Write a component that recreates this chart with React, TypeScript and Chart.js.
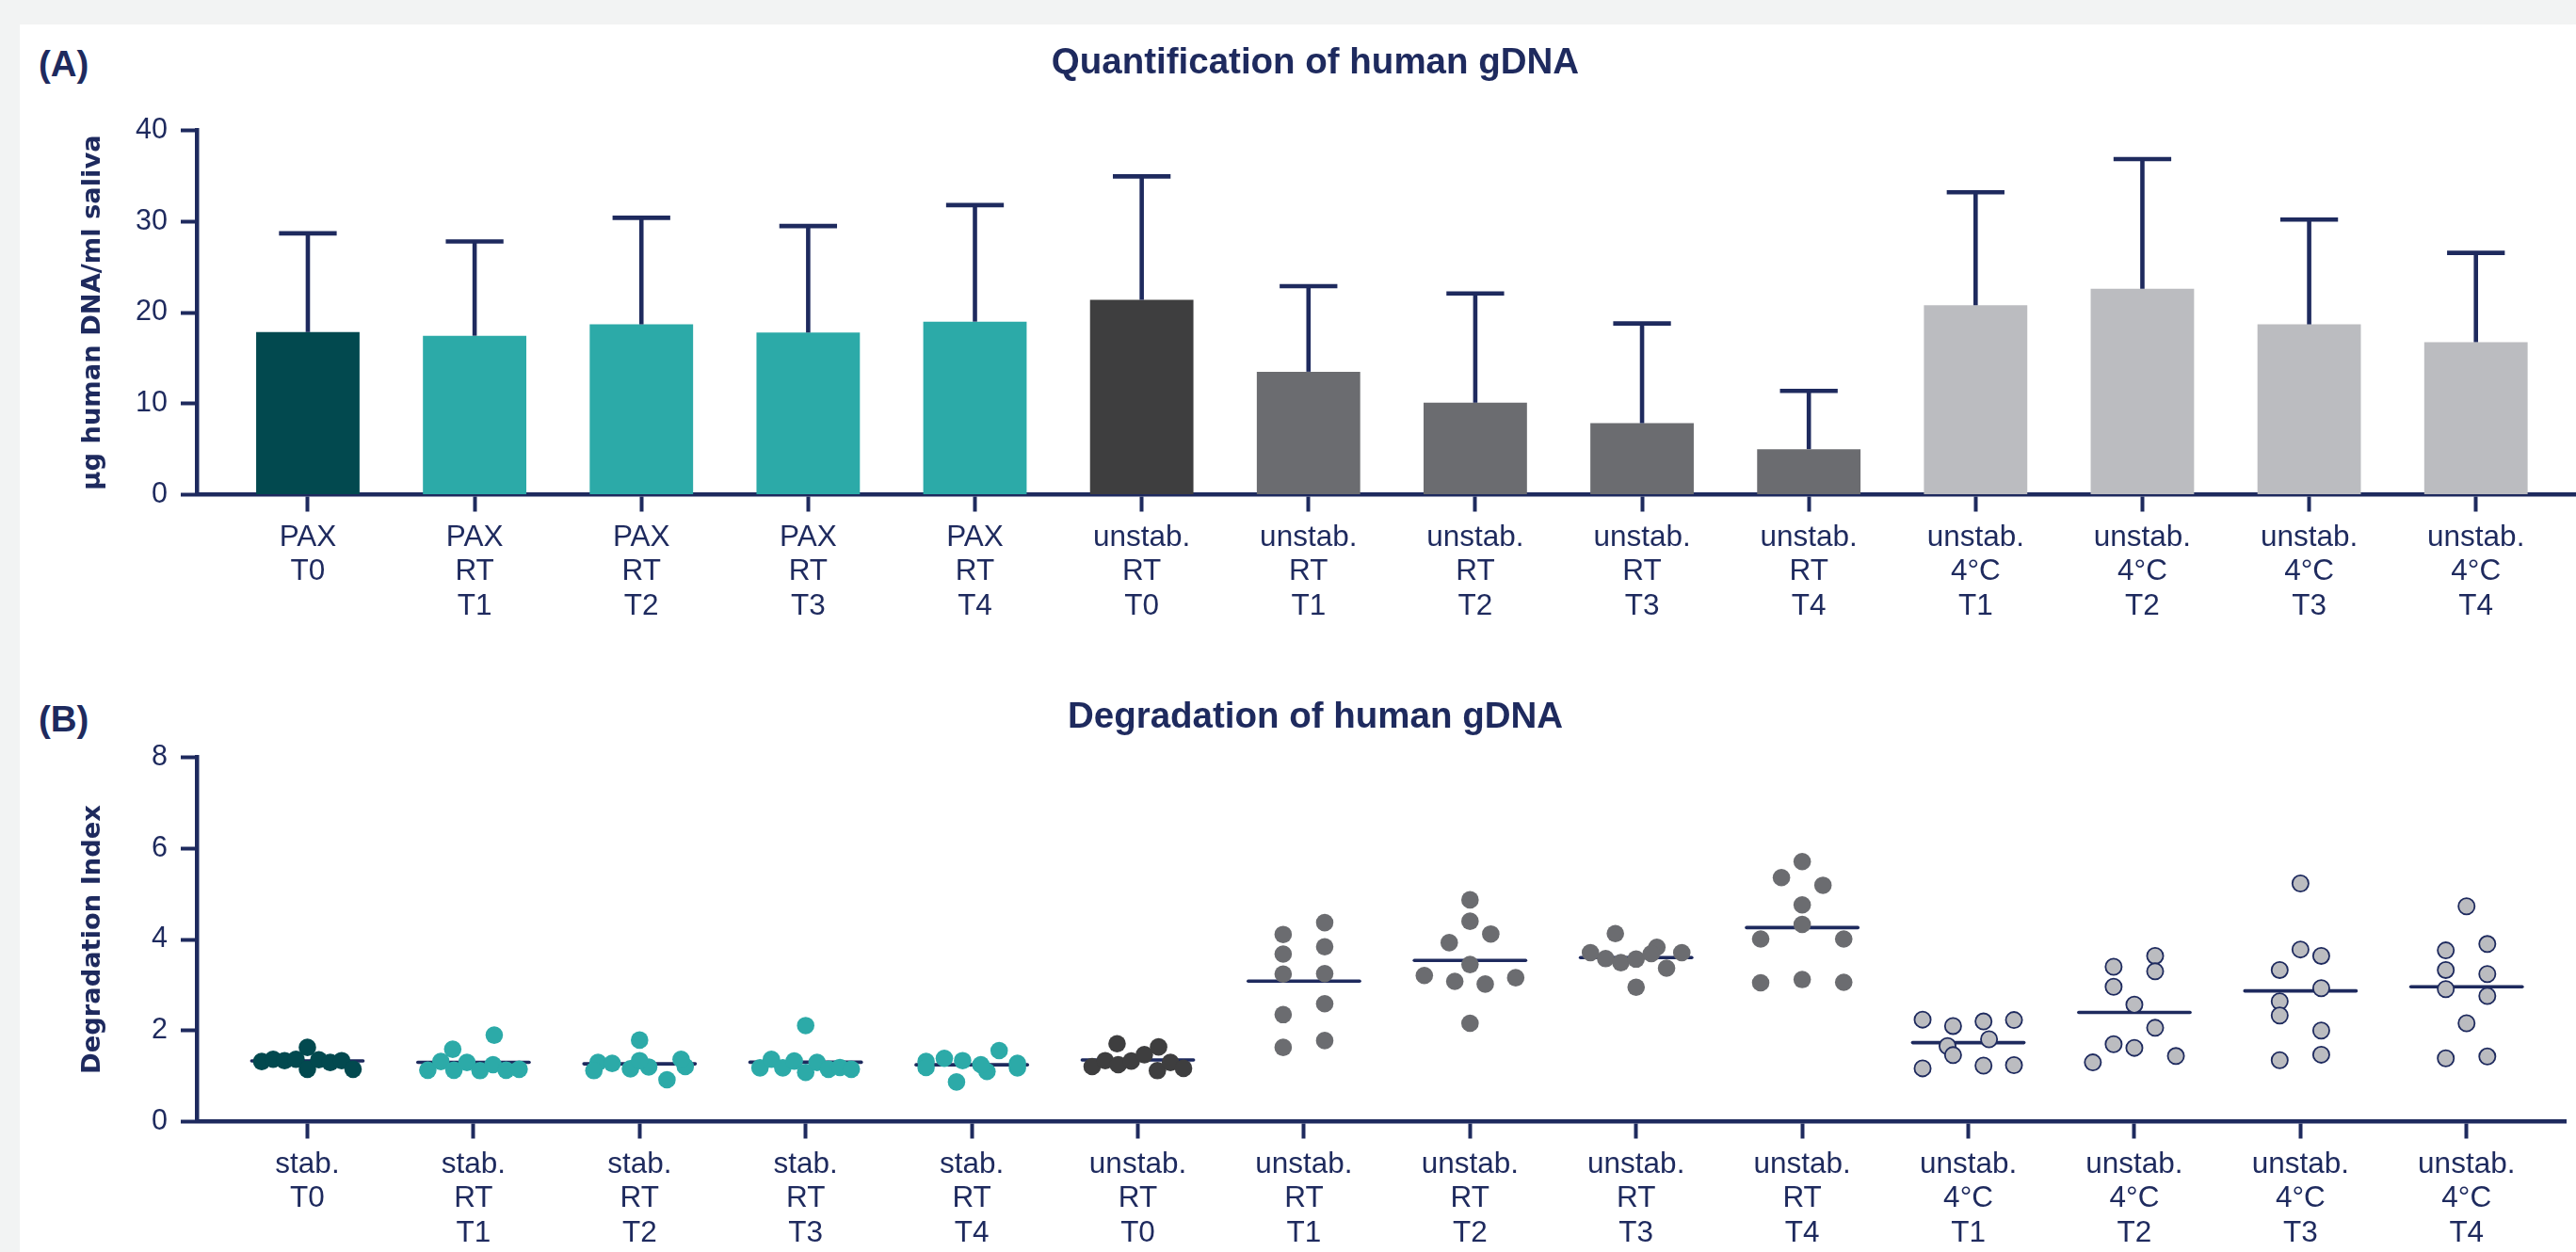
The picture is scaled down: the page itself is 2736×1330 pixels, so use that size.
import React, { useEffect, useRef } from 'react';
import { Chart, registerables } from 'chart.js';

Chart.register(...registerables);

const NAVY = '#1e2a5e';
const TICK_FONT = '"Liberation Sans", Arial, sans-serif';
const TITLE_FONT = '"Liberation Sans", Arial, sans-serif';
const AXIS_TITLE_FONT = '"DejaVu Sans", Verdana, sans-serif';

// ---------- Panel A: quantification ----------
const quantLabels = [
  ['PAX', 'T0'], ['PAX', 'RT', 'T1'], ['PAX', 'RT', 'T2'], ['PAX', 'RT', 'T3'], ['PAX', 'RT', 'T4'],
  ['unstab.', 'RT', 'T0'], ['unstab.', 'RT', 'T1'], ['unstab.', 'RT', 'T2'], ['unstab.', 'RT', 'T3'], ['unstab.', 'RT', 'T4'],
  ['unstab.', '4°C', 'T1'], ['unstab.', '4°C', 'T2'], ['unstab.', '4°C', 'T3'], ['unstab.', '4°C', 'T4'],
];
const quantMean = [17.85, 17.45, 18.7, 17.8, 19.0, 21.4, 13.5, 10.1, 7.85, 5.0, 20.8, 22.6, 18.7, 16.75];
const quantSD = [10.85, 10.35, 11.7, 11.7, 12.8, 13.55, 9.4, 12.0, 10.95, 6.4, 12.4, 14.25, 11.5, 9.8];
const quantTicks = [0, 10, 20, 30, 40];

// ---------- Panel B: degradation ----------
const degLabels = [
  ['stab.', 'T0'], ['stab.', 'RT', 'T1'], ['stab.', 'RT', 'T2'], ['stab.', 'RT', 'T3'], ['stab.', 'RT', 'T4'],
  ['unstab.', 'RT', 'T0'], ['unstab.', 'RT', 'T1'], ['unstab.', 'RT', 'T2'], ['unstab.', 'RT', 'T3'], ['unstab.', 'RT', 'T4'],
  ['unstab.', '4°C', 'T1'], ['unstab.', '4°C', 'T2'], ['unstab.', '4°C', 'T3'], ['unstab.', '4°C', 'T4'],
];
const degTicks = [0, 2, 4, 6, 8];

const degStabT0 = [1.32, 1.37, 1.34, 1.37, 1.15, 1.36, 1.30, 1.34, 1.63, 1.15];
const degStabRtT1 = [1.59, 1.13, 1.32, 1.13, 1.90, 1.30, 1.12, 1.25, 1.13, 1.15];
const degStabRtT2 = [1.30, 1.12, 1.28, 1.16, 1.79, 1.20, 1.34, 0.92, 1.21, 1.37];
const degStabRtT3 = [1.18, 1.37, 1.18, 1.33, 2.11, 1.08, 1.30, 1.15, 1.19, 1.15];
const degStabRtT4 = [1.32, 1.39, 1.19, 1.34, 0.87, 1.10, 1.25, 1.56, 1.18, 1.28];
const degUnstabRtT0 = [1.21, 1.71, 1.34, 1.25, 1.33, 1.47, 1.12, 1.64, 1.30, 1.17];
const degUnstabRtT1 = [1.63, 1.78, 2.35, 2.59, 3.24, 3.25, 3.68, 3.84, 4.11, 4.37];
const degUnstabRtT2 = [2.16, 3.21, 3.08, 3.02, 3.16, 3.45, 3.93, 4.12, 4.40, 4.87];
const degUnstabRtT3 = [3.71, 4.13, 3.58, 3.83, 3.49, 2.95, 3.57, 3.69, 3.37, 3.71];
const degUnstabRtT4 = [5.36, 3.05, 4.01, 5.71, 5.19, 4.76, 4.33, 3.12, 4.01, 3.06];
const degUnstab4T1 = [2.24, 1.66, 1.17, 2.10, 1.46, 2.20, 1.81, 1.23, 2.23, 1.24];
const degUnstab4T2 = [3.40, 1.70, 1.30, 3.64, 2.96, 2.57, 2.06, 1.62, 3.30, 1.44];
const degUnstab4T3 = [3.78, 2.64, 1.35, 5.23, 3.33, 2.33, 2.00, 3.64, 2.93, 1.47];
const degUnstab4T4 = [3.76, 3.33, 2.91, 1.39, 4.73, 2.16, 3.90, 3.24, 2.76, 1.43];

const degGroups = [
  degStabT0, degStabRtT1, degStabRtT2, degStabRtT3, degStabRtT4,
  degUnstabRtT0, degUnstabRtT1, degUnstabRtT2, degUnstabRtT3, degUnstabRtT4,
  degUnstab4T1, degUnstab4T2, degUnstab4T3, degUnstab4T4,
];

const groupColors = [
  '#02494f',
  '#2caaa8', '#2caaa8', '#2caaa8', '#2caaa8',
  '#3e3e3f',
  '#6b6c70', '#6b6c70', '#6b6c70', '#6b6c70',
  '#bbbcc0', '#bbbcc0', '#bbbcc0', '#bbbcc0',
];

// x-range so that the axis starts left of the first group like the original
const X_MIN = -0.666;
const X_MAX = 13.6;

// Prism-like scatter layout computed from the values: points whose values are
// close are placed in one row, spread around the category centre.
function swarmOffsets(values: number[]): number[] {
  const ROW = 0.37, STEP = 0.25, HALF = 0.275;
  const order = values.map((_, i) => i).sort((a, b) => values[a] - values[b]);
  const rows: number[][] = [];
  let cur: number[] = [];
  let start = -Infinity;
  for (const i of order) {
    if (cur.length && values[i] - start < ROW) cur.push(i);
    else {
      if (cur.length) rows.push(cur);
      cur = [i];
      start = values[i];
    }
  }
  if (cur.length) rows.push(cur);
  const off = values.map(() => 0);
  for (const r of rows) {
    r.sort((a, b) => a - b);
    const n = r.length;
    const s = n > 1 ? Math.min(STEP, (2 * HALF) / (n - 1)) : 0;
    r.forEach((i, k) => { off[i] = (k - (n - 1) / 2) * s; });
  }
  return off;
}

const mean = (a: number[]) => a.reduce((s, v) => s + v, 0) / a.length;

function xAxis(labels: string[][], height: number) {
  return {
    type: 'linear',
    min: X_MIN,
    max: X_MAX,
    offset: false,
    afterBuildTicks: (s: any) => { s.ticks = labels.map((_, i) => ({ value: i })); },
    afterFit: (s: any) => { s.height = height; },
    ticks: {
      autoSkip: false, maxRotation: 0, minRotation: 0, padding: 9, color: NAVY,
      font: { family: TICK_FONT, size: 31.5, lineHeight: 1.17 },
      callback: (v: any) => labels[v],
    },
    grid: { offset: false, drawOnChartArea: false, drawTicks: true, tickLength: 18, tickWidth: 4, tickColor: NAVY },
    border: { display: true, color: NAVY, width: 4.5 },
  };
}

function yAxis(ticks: number[], title: string) {
  return {
    type: 'linear',
    min: ticks[0],
    max: ticks[ticks.length - 1],
    afterBuildTicks: (s: any) => { s.ticks = ticks.map((v) => ({ value: v })); },
    afterFit: (s: any) => { s.width = 151; },
    ticks: { color: NAVY, padding: 14, font: { family: TICK_FONT, size: 30.5 } },
    grid: { drawOnChartArea: false, drawTicks: true, tickLength: 17, tickWidth: 4, tickColor: NAVY },
    border: { display: true, color: NAVY, width: 4.5 },
    title: {
      display: true, text: title, color: NAVY,
      font: { family: AXIS_TITLE_FONT, size: 27.3, weight: 'bold', lineHeight: 1.2 },
      padding: { top: 24.6, bottom: 0 },
    },
  };
}

const errorBarPlugin = {
  id: 'errorBars',
  afterDatasetsDraw(chart: any) {
    const { ctx, scales } = chart;
    const x = scales.x, y = scales.y;
    const unit = x.getPixelForValue(1) - x.getPixelForValue(0);
    ctx.save();
    ctx.strokeStyle = NAVY;
    ctx.lineWidth = 4.6;
    ctx.lineCap = 'butt';
    quantMean.forEach((m, i) => {
      const px = x.getPixelForValue(i);
      const y0 = y.getPixelForValue(m);
      const y1 = y.getPixelForValue(m + quantSD[i]);
      ctx.beginPath();
      ctx.moveTo(px, y0);
      ctx.lineTo(px, y1);
      ctx.stroke();
      ctx.beginPath();
      ctx.moveTo(px - unit * 0.173, y1);
      ctx.lineTo(px + unit * 0.173, y1);
      ctx.stroke();
    });
    ctx.restore();
  },
};

const meanLinePlugin = {
  id: 'meanLines',
  beforeDatasetsDraw(chart: any) {
    const { ctx, scales } = chart;
    const x = scales.x, y = scales.y;
    const unit = x.getPixelForValue(1) - x.getPixelForValue(0);
    ctx.save();
    ctx.strokeStyle = NAVY;
    ctx.lineWidth = 3.6;
    ctx.lineCap = 'round';
    degGroups.forEach((vals, g) => {
      const px = x.getPixelForValue(g);
      const py = y.getPixelForValue(mean(vals));
      ctx.beginPath();
      ctx.moveTo(px - unit * 0.335, py);
      ctx.lineTo(px + unit * 0.335, py);
      ctx.stroke();
    });
    ctx.restore();
  },
};

const W = 2736;
const HA = 666;
const HB = 664;

export default function App() {
  const refA = useRef<HTMLCanvasElement>(null);
  const refB = useRef<HTMLCanvasElement>(null);

  useEffect(() => {
    const chartA = new Chart(refA.current as HTMLCanvasElement, {
      type: 'bar',
      data: {
        datasets: [{
          data: quantMean.map((v, i) => ({ x: i, y: v })),
          backgroundColor: groupColors,
          borderWidth: 0,
          barPercentage: 0.62,
          categoryPercentage: 1,
        }],
      },
      options: {
        responsive: false,
        animation: false,
        events: [],
        layout: { padding: { left: 58, right: 0, top: 0, bottom: 0 } },
        plugins: {
          legend: { display: false },
          tooltip: { enabled: false },
          title: {
            display: true,
            text: 'Quantification of human gDNA',
            color: NAVY,
            font: { family: TITLE_FONT, size: 38.5, weight: 'bold', lineHeight: 1.2 },
            padding: { top: 44, bottom: 48.3 },
          },
        },
        scales: {
          x: xAxis(quantLabels, HA - 525.5),
          y: yAxis(quantTicks, 'µg human DNA/ml saliva'),
        },
      } as any,
      plugins: [errorBarPlugin],
    });

    const chartB = new Chart(refB.current as HTMLCanvasElement, {
      type: 'scatter',
      data: {
        datasets: degGroups.map((vals, g) => {
          const off = swarmOffsets(vals);
          const light = g >= 10;
          return {
            data: vals.map((v, k) => ({ x: g + off[k], y: v })),
            backgroundColor: groupColors[g],
            borderColor: light ? NAVY : groupColors[g],
            borderWidth: light ? 1.8 : 0,
            pointRadius: light ? 8.6 : 9.3,
            pointHoverRadius: light ? 8.6 : 9.3,
          };
        }),
      },
      options: {
        responsive: false,
        animation: false,
        events: [],
        layout: { padding: { left: 58, right: 0, top: 0, bottom: 0 } },
        plugins: {
          legend: { display: false },
          tooltip: { enabled: false },
          title: {
            display: true,
            text: 'Degradation of human gDNA',
            color: NAVY,
            font: { family: TITLE_FONT, size: 38.5, weight: 'bold', lineHeight: 1.2 },
            padding: { top: 73.6, bottom: 18.7 },
          },
        },
        scales: {
          x: xAxis(degLabels, HB - 525.5),
          y: yAxis(degTicks, 'Degradation Index'),
        },
      } as any,
      plugins: [meanLinePlugin],
    });

    return () => {
      chartA.destroy();
      chartB.destroy();
    };
  }, []);

  const panelLabel: React.CSSProperties = {
    position: 'absolute',
    left: 41,
    fontFamily: TITLE_FONT,
    fontWeight: 'bold',
    fontSize: 38.5,
    lineHeight: '38.5px',
    color: NAVY,
    margin: 0,
  };

  return (
    <div style={{ position: 'fixed', left: 0, top: 0, width: W, height: 1330, background: '#f2f3f3', overflow: 'hidden' }}>
      <div style={{ position: 'absolute', left: 21, top: 26, right: 0, bottom: 0, background: '#ffffff' }} />
      <div style={{ ...panelLabel, top: 48.5 }}>(A)</div>
      <div style={{ ...panelLabel, top: 744.5 }}>(B)</div>
      <canvas ref={refA} width={W} height={HA} style={{ position: 'absolute', left: 0, top: 0, width: W, height: HA }} />
      <canvas ref={refB} width={W} height={HB} style={{ position: 'absolute', left: 0, top: HA, width: W, height: HB }} />
    </div>
  );
}
